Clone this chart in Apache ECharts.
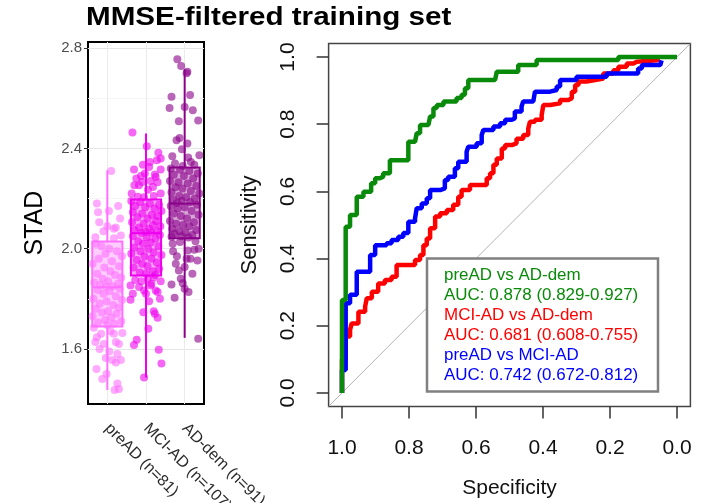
<!DOCTYPE html>
<html>
<head>
<meta charset="utf-8">
<script src="https://cdn.jsdelivr.net/npm/echarts@6.0.0/dist/echarts.min.js"></script>
<style>
html, body { margin: 0; padding: 0; background: #fff; }
#chart { width: 704px; height: 503px; }
</style>
</head>
<body>
<div id="chart"></div>
<script>
// ---- left panel: STAD by group ----
const groups = ['preAD (n=81)', 'MCI-AD (n=107)', 'AD-dem (n=91)']
const groupColors = ['#ff70ff', '#ee00ee', '#8b008b']
// low whisker, Q1, median, Q3, high whisker
const boxStats = [
  [1.436, 1.689, 1.846, 2.029, 2.313],
  [1.486, 1.893, 2.062, 2.196, 2.46],
  [1.644, 2.042, 2.18, 2.324, 2.716]
]
const stadTicks = [1.6, 2.0, 2.4, 2.8]
const stadMinorTicks = [1.8, 2.2, 2.6]

// jittered points: [x position, STAD]
const preADPts = [
  [1.10,2.31],[0.73,2.18],[1.28,2.17],[0.76,2.145],[1.04,2.15],[1.33,2.12],[0.79,2.105],[1.00,2.09],
  [1.22,2.085],[1.17,2.08],[0.69,2.046],[1.17,2.042],[1.35,2.053],[0.90,2.07],
  [0.70,2.02],[0.85,2.01],[1.05,2.00],[1.25,1.99],[0.95,1.98],[1.38,1.97],[0.78,1.96],[1.12,1.95],
  [0.62,1.94],[1.30,1.93],[0.92,1.925],[1.08,1.91],[0.74,1.90],[1.20,1.895],[1.36,1.885],[0.88,1.88],
  [1.02,1.87],[0.66,1.865],[1.28,1.86],[0.82,1.855],[1.14,1.85],[0.97,1.848],[1.32,1.84],[0.75,1.835],
  [1.06,1.83],[0.90,1.82],[1.22,1.81],[0.64,1.80],[1.38,1.795],[0.98,1.79],[0.80,1.78],[1.15,1.775],
  [1.30,1.765],[0.70,1.76],[1.02,1.75],[0.86,1.745],[1.24,1.74],[0.62,1.73],[1.10,1.725],[0.94,1.715],
  [1.36,1.71],[0.76,1.705],[1.18,1.70],[1.00,1.695],
  [0.65,1.684],[0.73,1.646],[0.69,1.627],[0.91,1.62],[1.17,1.66],[1.39,1.663],[1.22,1.627],[1.30,1.62],
  [0.96,1.564],[1.13,1.556],[1.35,1.556],[1.22,1.546],[0.87,1.48],[1.26,1.462],[1.19,1.436],[1.30,1.44],
  [0.80,1.60],[1.05,1.59],[0.72,1.52],[1.08,1.67],[0.84,1.66],[1.26,1.58],[0.98,1.50]
]
const mciPts = [
  [1.65,2.464],[2.02,2.409],[2.32,2.383],[2.38,2.36],[2.28,2.353],[2.10,2.346],[1.69,2.316],[1.97,2.30],
  [2.23,2.296],[2.38,2.316],[1.90,2.266],[1.70,2.253],[2.18,2.246],[2.38,2.22],[1.63,2.22],[1.79,2.207],
  [1.87,2.29],[2.25,2.286],[2.08,2.326],[1.82,2.253],[2.05,2.235],[2.20,2.21],[1.95,2.205],[2.30,2.265],
  [1.75,2.28],[2.12,2.27],[1.92,2.335],
  [1.62,2.19],[1.85,2.185],[2.10,2.18],[2.34,2.175],[1.72,2.17],[1.98,2.165],[2.22,2.16],[2.40,2.15],
  [1.66,2.145],[1.90,2.14],[2.15,2.135],[2.30,2.13],[1.78,2.125],[2.04,2.12],[2.26,2.11],[1.64,2.105],
  [1.94,2.10],[2.18,2.095],[2.37,2.09],[1.82,2.085],[2.08,2.08],[1.70,2.075],[2.28,2.07],[1.98,2.068],
  [2.14,2.065],[1.88,2.063],
  [2.36,2.055],[1.66,2.05],[2.02,2.045],[2.24,2.04],[1.80,2.03],[2.12,2.025],[1.92,2.02],[2.32,2.01],
  [1.70,2.005],[2.06,2.00],[1.86,1.99],[2.20,1.985],[1.62,1.98],[2.40,1.975],[1.96,1.97],[2.14,1.96],
  [1.76,1.955],[2.28,1.945],[1.90,1.94],[2.04,1.93],[1.68,1.925],[2.34,1.92],[2.18,1.91],[1.84,1.905],
  [2.00,1.90],[2.24,1.895],
  [1.60,1.853],[1.82,1.847],[1.95,1.833],[2.12,1.853],[2.25,1.833],[2.36,1.80],[1.60,1.796],[2.00,1.82],
  [2.30,1.827],[2.14,1.86],[1.93,1.746],[2.23,1.74],[2.30,1.724],[2.06,1.68],[1.76,1.636],[1.69,1.616],
  [2.33,1.597],[2.40,1.542],[1.95,1.486],[2.20,1.75],[1.72,1.875],[2.05,1.88],[2.38,1.87],[1.88,1.87],
  [2.20,1.885],[1.66,1.82],[2.08,1.79]
]
const adPts = [
  [2.81,2.756],[2.91,2.729],[3.07,2.706],[3.05,2.70],[2.66,2.606],[3.14,2.613],[2.61,2.562],[3.00,2.566],
  [3.21,2.553],[2.85,2.509],[3.35,2.512],[2.79,2.433],[2.87,2.442],[3.07,2.42],[2.93,2.397],[2.68,2.369],
  [3.09,2.364],[3.38,2.373],[3.16,2.346],[2.75,2.34],[3.25,2.335],[2.95,2.33],
  [2.64,2.32],[2.88,2.315],[3.12,2.31],[3.34,2.30],[2.72,2.295],[2.98,2.29],[3.22,2.28],[2.62,2.27],
  [2.84,2.265],[3.08,2.26],[3.30,2.25],[2.76,2.245],[2.94,2.24],[3.16,2.23],[2.66,2.225],[3.38,2.22],
  [2.86,2.21],[3.04,2.205],[3.26,2.20],[2.70,2.195],[2.92,2.19],[3.14,2.185],[2.80,2.182],
  [3.32,2.175],[2.64,2.17],[3.00,2.165],[2.82,2.16],[3.18,2.15],[2.72,2.14],[3.36,2.135],[2.90,2.13],
  [3.06,2.12],[2.62,2.11],[3.24,2.105],[2.78,2.10],[2.96,2.095],[3.12,2.09],[2.68,2.08],[3.30,2.075],
  [2.86,2.07],[3.02,2.065],[2.74,2.06],[3.20,2.055],[2.92,2.05],[2.66,2.048],[3.10,2.045],
  [2.66,1.857],[2.95,1.862],[3.00,1.84],[3.10,1.827],[2.74,1.804],[3.35,1.64],[2.85,1.913],[3.00,1.927],
  [3.15,1.96],[3.33,1.953],[2.77,1.94],[3.08,1.993],[3.25,1.996],[2.69,2.02],[2.88,2.027],[3.36,2.00],
  [2.90,1.88],[3.20,1.90],[2.80,1.97],[3.05,1.96],[2.70,1.99],[3.28,2.03]
]

// ---- right panel: ROC curves, [specificity, sensitivity] ----
const rocPreAdVsAdDem = [
  [1,0],[1,0.277],[0.989,0.495],[0.976,0.53],[0.956,0.584],[0.936,0.599],[0.913,0.624],[0.901,0.639],
  [0.887,0.644],[0.877,0.654],[0.857,0.693],[0.802,0.748],[0.782,0.753],[0.777,0.773],[0.767,0.798],
  [0.742,0.803],[0.737,0.823],[0.727,0.848],[0.717,0.857],[0.697,0.868],[0.658,0.878],[0.643,0.888],
  [0.633,0.907],[0.623,0.932],[0.543,0.936],[0.538,0.956],[0.474,0.976],[0.419,0.991],[0.175,1.0],[0,1.0]
]
const rocMciVsAdDem = [
  [1,0],[1,0.1],[0.989,0.168],[0.976,0.188],[0.971,0.207],[0.951,0.242],[0.931,0.257],[0.926,0.282],
  [0.911,0.301],[0.892,0.326],[0.872,0.336],[0.852,0.346],[0.837,0.381],[0.782,0.396],[0.767,0.411],
  [0.757,0.44],[0.747,0.46],[0.737,0.49],[0.722,0.525],[0.707,0.535],[0.687,0.545],[0.668,0.56],
  [0.653,0.584],[0.643,0.604],[0.618,0.619],[0.568,0.639],[0.558,0.654],[0.548,0.679],[0.538,0.698],
  [0.523,0.728],[0.513,0.738],[0.493,0.743],[0.479,0.757],[0.459,0.768],[0.444,0.787],[0.439,0.807],
  [0.424,0.813],[0.404,0.827],[0.399,0.857],[0.379,0.862],[0.349,0.872],[0.324,0.877],[0.314,0.897],
  [0.304,0.917],[0.294,0.927],[0.27,0.932],[0.24,0.936],[0.22,0.951],[0.19,0.961],[0.175,0.971],
  [0.15,0.981],[0.13,0.986],[0.12,0.991],[0.051,0.991]
]
const rocPreAdVsMci = [
  [1,0],[1,0.068],[0.989,0.267],[0.976,0.292],[0.956,0.361],[0.916,0.411],[0.901,0.44],[0.867,0.446],
  [0.852,0.455],[0.832,0.465],[0.817,0.476],[0.802,0.51],[0.782,0.52],[0.777,0.55],[0.762,0.564],
  [0.747,0.58],[0.737,0.604],[0.707,0.609],[0.693,0.634],[0.683,0.644],[0.663,0.669],[0.653,0.688],
  [0.628,0.718],[0.623,0.733],[0.598,0.743],[0.583,0.768],[0.578,0.783],[0.548,0.793],[0.528,0.803],
  [0.513,0.813],[0.493,0.818],[0.484,0.838],[0.464,0.853],[0.459,0.868],[0.429,0.872],[0.424,0.897],
  [0.379,0.902],[0.359,0.912],[0.349,0.932],[0.30,0.941],[0.21,0.951],[0.116,0.966],[0.105,0.976],
  [0.05,0.981],[0.046,0.99]
]
const rocTicks = [0, 0.2, 0.4, 0.6, 0.8, 1.0]
const legendLines = [
  ['preAD vs AD-dem', '#0a8a0a'],
  ['AUC: 0.878 (0.829-0.927)', '#0a8a0a'],
  ['MCI-AD vs AD-dem', '#ff0000'],
  ['AUC: 0.681 (0.608-0.755)', '#ff0000'],
  ['preAD vs MCI-AD', '#0000ff'],
  ['AUC: 0.742 (0.672-0.812)', '#0000ff']
]

const FONT = 'Liberation Sans, Arial, sans-serif'

function alpha(hex, a) {
  const n = parseInt(hex.slice(1), 16)
  return 'rgba(' + (n >> 16) + ',' + ((n >> 8) & 255) + ',' + (n & 255) + ',' + a + ')'
}

function renderBox(params, api) {
  const x = api.value(0)
  const lo = api.coord([x, api.value(1)])
  const q1 = api.coord([x, api.value(2)])
  const md = api.coord([x, api.value(3)])
  const q3 = api.coord([x, api.value(4)])
  const hi = api.coord([x, api.value(5)])
  const hw = api.size([0.78, 0])[0] / 2
  const c = groupColors[params.dataIndex]
  const ln = { stroke: c, lineWidth: 2 }
  return {
    type: 'group',
    children: [
      { type: 'line', shape: { x1: lo[0], y1: lo[1], x2: q1[0], y2: q1[1] }, style: ln },
      { type: 'line', shape: { x1: q3[0], y1: q3[1], x2: hi[0], y2: hi[1] }, style: ln },
      { type: 'rect', shape: { x: q3[0] - hw, y: q3[1], width: hw * 2, height: q1[1] - q3[1] },
        style: { fill: alpha(c, 0.35), stroke: c, lineWidth: 2 } },
      { type: 'line', shape: { x1: md[0] - hw, y1: md[1], x2: md[0] + hw, y2: md[1] }, style: ln }
    ]
  }
}

const chart = echarts.init(document.getElementById('chart'))

const legendGraphic = [{
  type: 'rect', z: 100,
  shape: { x: 427, y: 258.5, width: 231, height: 133 },
  style: { fill: '#fff', stroke: '#808080', lineWidth: 2.5 }
}]
legendLines.forEach((l, i) => {
  legendGraphic.push({
    type: 'text', z: 101, x: 444, y: 276 + i * 20, scaleX: 1.06,
    style: { text: l[0], fill: l[1], font: '16px ' + FONT, verticalAlign: 'middle' }
  })
})

const option = {
  animation: false,
  textStyle: { fontFamily: FONT },
  graphic: [
    { type: 'text', x: 86, y: 18, scaleX: 1.185,
      style: { text: 'MMSE-filtered training set', font: 'bold 25px ' + FONT, fill: '#000', verticalAlign: 'middle' } }
  ].concat(legendGraphic),
  grid: [
    { left: 88, right: 500, top: 42, bottom: 99, show: true, borderColor: '#000', borderWidth: 2,
      containLabel: false, outerBoundsMode: 'none' },
    { left: 328.6, right: 13.6, top: 43.6, bottom: 96.6, show: true, borderColor: '#444', borderWidth: 1.5,
      containLabel: false, outerBoundsMode: 'none' }
  ],
  xAxis: [
    {
      type: 'category', gridIndex: 0, data: groups, boundaryGap: true, position: 'bottom',
      axisLine: { show: false, onZero: false },
      axisTick: { alignWithLabel: true, length: 4, lineStyle: { color: '#333' } },
      axisLabel: { rotate: -45, margin: 22, fontSize: 16, color: '#2a2a2a' },
      splitLine: { show: false }
    },
    {
      type: 'value', gridIndex: 0, min: 0.5, max: 3.5, position: 'bottom',
      axisLine: { show: false, onZero: false },
      axisTick: { show: false, customValues: [1, 2, 3] },
      axisLabel: { show: false },
      splitLine: { show: true, lineStyle: { color: '#ebebeb', width: 1 } }
    },
    {
      type: 'value', gridIndex: 1, min: -0.04, max: 1.04, inverse: true, position: 'bottom',
      name: 'Specificity', nameLocation: 'middle', nameGap: 71,
      nameTextStyle: { fontSize: 21, color: '#111' },
      axisLine: { show: false, onZero: false },
      axisTick: { show: true, customValues: rocTicks, length: 12, lineStyle: { color: '#333', width: 1.5 } },
      axisLabel: { customValues: rocTicks, fontSize: 21, color: '#111', margin: 31, formatter: v => v.toFixed(1) },
      splitLine: { show: false }
    }
  ],
  yAxis: [
    {
      type: 'value', gridIndex: 0, min: 1.38, max: 2.825, position: 'left',
      name: 'STAD', nameLocation: 'middle', nameGap: 40,
      nameTextStyle: { fontSize: 25, color: '#000' },
      axisLine: { show: false, onZero: false },
      axisTick: { show: true, customValues: stadTicks, length: 4, lineStyle: { color: '#333' } },
      axisLabel: { customValues: stadTicks, fontSize: 15, color: '#4d4d4d', margin: 6, formatter: v => v.toFixed(1) },
      splitLine: { show: true, lineStyle: { color: '#e6e6e6', width: 1 } }
    },
    {
      type: 'value', gridIndex: 0, min: 1.38, max: 2.825, position: 'left',
      axisLine: { show: false, onZero: false },
      axisTick: { show: false, customValues: stadMinorTicks },
      axisLabel: { show: false },
      splitLine: { show: true, lineStyle: { color: '#f3f3f3', width: 0.8 } }
    },
    {
      type: 'value', gridIndex: 1, min: -0.04, max: 1.04, position: 'left',
      name: 'Sensitivity', nameLocation: 'middle', nameGap: 68,
      nameTextStyle: { fontSize: 22, color: '#111' },
      axisLine: { show: false, onZero: false },
      axisTick: { show: true, customValues: rocTicks, length: 12, lineStyle: { color: '#333', width: 1.5 } },
      axisLabel: { customValues: rocTicks, rotate: 90, fontSize: 21, color: '#111', margin: 30, formatter: v => v.toFixed(1) },
      splitLine: { show: false }
    }
  ],
  series: [
    {
      type: 'custom', xAxisIndex: 1, yAxisIndex: 0, z: 2,
      renderItem: renderBox,
      encode: { x: 0, y: [1, 2, 3, 4, 5] },
      data: boxStats.map((s, i) => [i + 1].concat(s))
    },
    {
      type: 'scatter', xAxisIndex: 1, yAxisIndex: 0, z: 3, symbolSize: 8,
      itemStyle: { color: groupColors[0], opacity: 0.6 }, data: preADPts
    },
    {
      type: 'scatter', xAxisIndex: 1, yAxisIndex: 0, z: 3, symbolSize: 8,
      itemStyle: { color: groupColors[1], opacity: 0.6 }, data: mciPts
    },
    {
      type: 'scatter', xAxisIndex: 1, yAxisIndex: 0, z: 3, symbolSize: 8,
      itemStyle: { color: groupColors[2], opacity: 0.6 }, data: adPts
    },
    {
      type: 'line', xAxisIndex: 2, yAxisIndex: 2, z: 2, symbol: 'none', silent: true,
      lineStyle: { color: '#b4b4b4', width: 1 },
      data: [[1.04, -0.04], [-0.04, 1.04]]
    },
    {
      type: 'line', xAxisIndex: 2, yAxisIndex: 2, z: 3, symbol: 'none', step: 'end',
      lineStyle: { color: '#ff0000', width: 4.5 }, data: rocMciVsAdDem
    },
    {
      type: 'line', xAxisIndex: 2, yAxisIndex: 2, z: 4, symbol: 'none', step: 'end',
      lineStyle: { color: '#0000ff', width: 4.5 }, data: rocPreAdVsMci
    },
    {
      type: 'line', xAxisIndex: 2, yAxisIndex: 2, z: 5, symbol: 'none', step: 'end',
      lineStyle: { color: '#0a8a0a', width: 4.5 }, data: rocPreAdVsAdDem
    }
  ]
}

chart.setOption(option)
</script>
</body>
</html>
